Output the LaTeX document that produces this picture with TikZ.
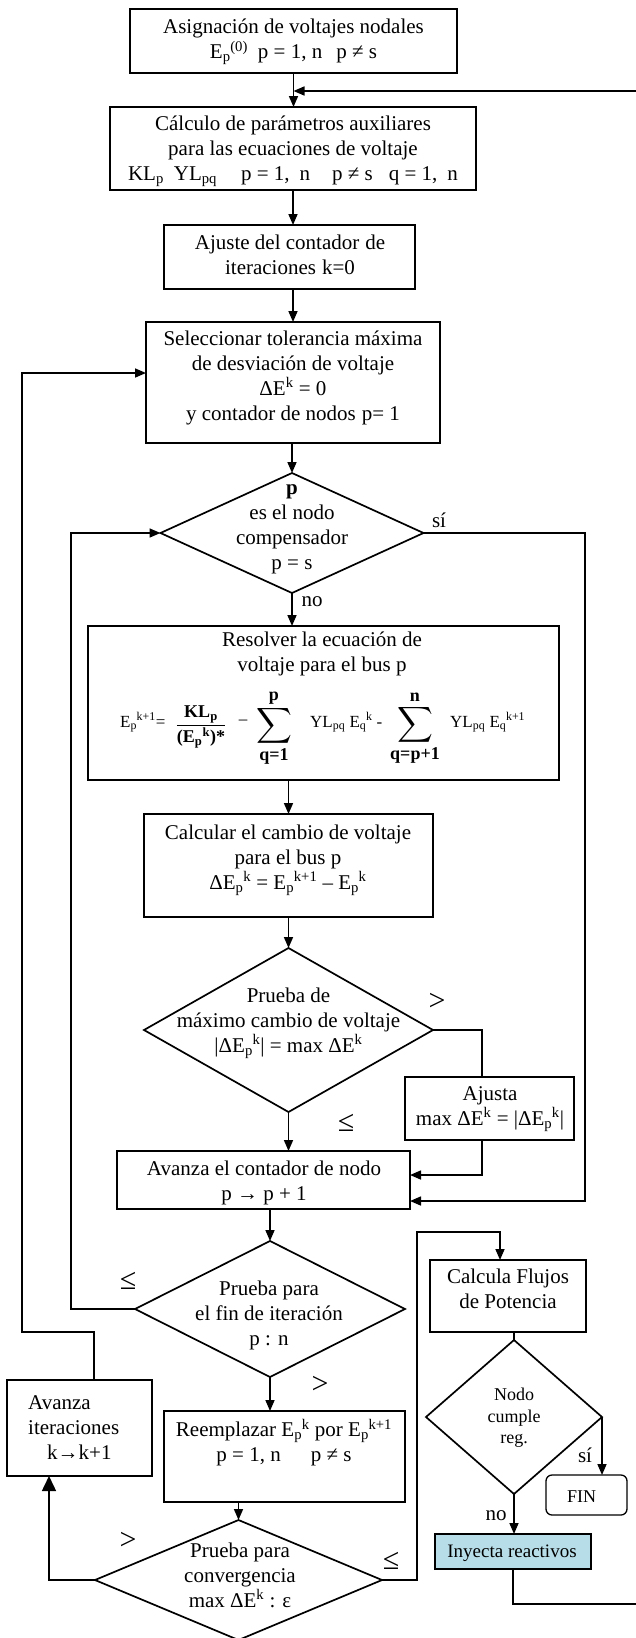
\documentclass[tikz,border=0pt]{standalone}
\usepackage{fontspec}
\setmainfont{Liberation Serif}
\usepackage{amsmath}
\usetikzlibrary{shapes.geometric,arrows.meta}
\newcommand{\ES}[2]{E\textsubscript{#1}\kern-0.3pt\textsuperscript{#2}}
\newcommand{\bl}[1]{\mbox{\fontsize{18}{18}\selectfont\bfseries #1}}
\newcommand{\bigsum}{\mathop{\vcenter{\hbox{\fontsize{24}{24}\selectfont$\displaystyle\sum$}}}\limits}
\definecolor{inyblue}{HTML}{B7DDE8}
\begin{document}
\begin{tikzpicture}[x=1pt,y=-1pt,
  box/.style={draw,line width=1.7pt,inner sep=0pt,outer sep=0pt},
  dia/.style={draw,diamond,line width=1.7pt,inner sep=0pt,outer sep=0pt},
  txt/.style={align=center,font=\fontsize{21}{25}\selectfont,inner sep=0pt},
  fm/.style={inner sep=0pt,font=\fontsize{17}{20}\selectfont},
  lbl/.style={font=\fontsize{21}{25}\selectfont,inner sep=0pt},
  cmp/.style={font=\fontsize{30}{32}\selectfont,inner sep=0pt},
  ln/.style={line width=1.6pt},
  arr/.style={ln,-{Triangle[length=11pt,width=9pt]}},
  bigarr/.style={ln,-{Triangle[length=15pt,width=14pt]}}]
\fill[white] (0,0) rectangle (636,1638);
\useasboundingbox (0,0) rectangle (636,1638);

% shapes
\node[box,minimum width=327pt,minimum height=64pt] (b1) at (293.5,41) {};
\node[box,minimum width=366pt,minimum height=83pt] (b2) at (293,148.5) {};
\node[box,minimum width=251pt,minimum height=64pt] (b3) at (289.5,257) {};
\node[box,minimum width=294pt,minimum height=121pt] (b4) at (293,382.5) {};
\node[dia,minimum width=263pt,minimum height=120pt] (d1) at (292,533) {};
\node[box,minimum width=471pt,minimum height=154pt] (b5) at (323.5,703) {};
\node[box,minimum width=289pt,minimum height=103pt] (b6) at (288.5,865.5) {};
\node[dia,minimum width=289pt,minimum height=164pt] (d2) at (288.5,1030) {};
\node[box,minimum width=169pt,minimum height=63pt] (b7) at (489.5,1108.5) {};
\node[box,minimum width=293pt,minimum height=58pt] (b8) at (263.5,1180) {};
\node[dia,minimum width=270pt,minimum height=136pt] (d3) at (270,1309) {};
\node[box,minimum width=145pt,minimum height=96pt] (b9) at (79.5,1428) {};
\node[box,minimum width=241pt,minimum height=91pt] (b10) at (284.5,1456.5) {};
\node[dia,minimum width=287pt,minimum height=120pt] (d4) at (238.5,1580) {};
\node[box,minimum width=156pt,minimum height=72pt] (b11) at (508,1296) {};
\node[dia,minimum width=176pt,minimum height=154pt] (d5) at (514,1417) {};
\node[box,rounded corners=6pt,line width=1.3pt,minimum width=81pt,minimum height=40pt] (fin) at (586.5,1495) {};
\node[box,fill=inyblue,minimum width=156pt,minimum height=35pt] (iny) at (513,1551.5) {};

% texts
\node[txt] (t1) at (293.5,42) {Asignación de voltajes nodales\\\ES{p}{(0)}\hspace{10pt}p = 1, n\hspace{14pt}p ≠ s};
\node[txt] (t2) at (293,151) {Cálculo de parámetros auxiliares\\para las ecuaciones de voltaje\\KL\textsubscript{p}\hspace{10pt}YL\textsubscript{pq}\hspace{24pt}p = 1,\hspace{10pt}n\hspace{22pt}p ≠ s\hspace{16pt}q = 1,\hspace{10pt}n\hspace{20pt}};
\node[txt] (t3) at (290,255) {Ajuste del contador\hspace{6pt}de\\iteraciones\hspace{6pt}k=0};
\node[txt] (t4) at (293,377.5) {Seleccionar tolerancia máxima\\de desviación de voltaje\\ΔE\textsuperscript{k} = 0\\y contador de nodos\hspace{6pt}p= 1};
\node[txt] (t5) at (292,529) {\textbf{p}\\es el nodo\\compensador\\p = s};
\node[txt] (t6) at (322,654) {Resolver la ecuación de\\voltaje para el bus p};
% formula pieces
\node[fm,anchor=base west] (fa) at (120,727) {\ES{p}{k+1}=};
\node[fm] (fb) at (201,727) {$\dfrac{\bl{KL\textsubscript{p}}}{\bl{(E\textsubscript{p}\textsuperscript{k})*}}$};
\node[fm] (fc) at (243,722) {–};
\node[fm] (fd) at (274,728) {$\bigsum_{\bl{q=1}}^{\bl{p}}$};
\node[fm,anchor=base west] (fe) at (310,727) {YL\textsubscript{pq} \ES{q}{k} -};
\node[fm] (ff) at (415,728) {$\bigsum_{\bl{q=p+1}}^{\bl{n}}$};
\node[fm,anchor=base west] (fg) at (450,727) {YL\textsubscript{pq} \ES{q}{k+1}};
%
\node[txt] (t7) at (288,860) {Calcular el cambio de voltaje\\para el bus p\\Δ\ES{p}{k} = \ES{p}{k+1} – \ES{p}{k}};
\node[txt] (t8) at (288.5,1023) {Prueba de\\máximo cambio de voltaje\\|Δ\ES{p}{k}| = max ΔE\textsuperscript{k}};
\node[txt] (t9) at (490,1109) {Ajusta\\max ΔE\textsuperscript{k} = |Δ\ES{p}{k}|};
\node[txt] (t10) at (264,1183) {Avanza el contador de nodo\\p → p + 1};
\node[txt] (t11) at (269,1315.5) {Prueba para\\el fin de iteración\\p : n};
\node[txt,align=left,anchor=west] (t12) at (28,1428) {Avanza\\iteraciones\\\hspace*{19pt}k→k+1};
\node[txt] (t13) at (284,1442.5) {Reemplazar \ES{p}{k} por \ES{p}{k+1}\\p = 1, n\hspace{30pt}p ≠ s};
\node[txt] (t14) at (240,1575) {Prueba para\\convergencia\\max ΔE\textsuperscript{k} : ε};
\node[txt] (t15) at (508,1289) {Calcula Flujos\\de Potencia};
\node[txt,font=\fontsize{18}{21.5}\selectfont] (t16) at (514,1418) {Nodo\\cumple\\reg.};
\node[txt,font=\fontsize{18}{21.5}\selectfont] (t17) at (581.5,1497) {FIN};
\node[txt,font=\fontsize{19}{22}\selectfont] (t18) at (512,1553) {Inyecta reactivos};

% labels
\node[lbl] (l1) at (439,520) {sí};
\node[lbl] (l2) at (312,602) {no};
\node[cmp] (l3) at (437,1002) {>};
\node[cmp] (l4) at (346,1123) {≤};
\node[cmp] (l5) at (128,1281) {≤};
\node[cmp] (l6) at (320,1385) {>};
\node[cmp] (l7) at (128,1541) {>};
\node[cmp] (l8) at (391,1561) {≤};
\node[lbl] (l9) at (585,1455) {sí};
\node[lbl] (l10) at (496,1516) {no};

% coordinates
\coordinate (R1) at (636,91);
\coordinate (R2) at (636,1604);
\coordinate (k1) at (585,1201);
\coordinate (k2) at (482,1077);
\coordinate (k3) at (482,1175);
\coordinate (xL1) at (71,533);
\coordinate (x49) at (49,1580);
\coordinate (k5) at (94,1332);
\coordinate (k6) at (22,373);
\coordinate (k7) at (417,1232);
\coordinate (k8) at (500,1232);

% connectors
\draw[arr] (R1) -- (b1.south |- R1);
\draw[arr] (b1.south) -- (b1.south |- b2.north);
\draw[arr] (b2.south) -- (b2.south |- b3.north);
\draw[arr] (b4.north |- b3.south) -- (b4.north);
\draw[arr] (d1.north |- b4.south) -- (d1.north);
\draw[arr] (d1.south) -- (d1.south |- b5.north);
\draw[arr] (d1.east) -| (k1) -- (b8.east |- k1);
\draw[arr] (b6.north |- b5.south) -- (b6.north);
\draw[arr] (b6.south) -- (d2.north);
\draw[ln] (d2.east) -| (k2 |- b7.north);
\draw[arr] (k2 |- b7.south) -- (k3) -- (b8.east |- k3);
\draw[arr] (d2.south) -- (d2.south |- b8.north);
\draw[arr] (d3.north |- b8.south) -- (d3.north);
\draw[arr] (d3.west) -| (xL1) -- (d1.west);
\draw[arr] (d3.south) -- (d3.south |- b10.north);
\draw[arr] (d4.north |- b10.south) -- (d4.north);
\draw[bigarr] (d4.west) -- (x49) -- (x49 |- b9.south);
\draw[arr] (k5 |- b9.north) -- (k5) -| (k6) -- (b4.west |- k6);
\draw[arr] (d4.east) -| (k7) -- (k8) -- (k8 |- b11.north);
\draw[ln] (d5.north |- b11.south) -- (d5.north);
\draw[arr] (d5.east) -- (d5.east |- fin.north);
\draw[arr] (d5.south) -- (d5.south |- iny.north);
\draw[ln] (iny.south) |- (R2);
\end{tikzpicture}
\end{document}
